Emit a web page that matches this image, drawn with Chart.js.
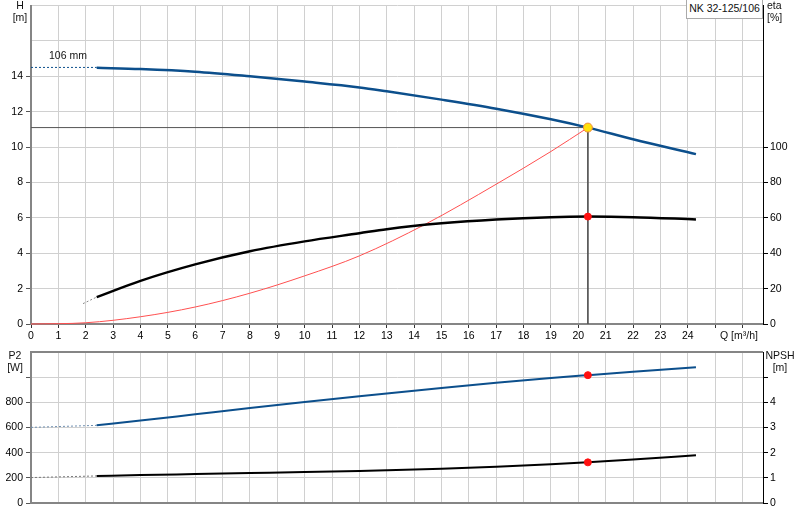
<!DOCTYPE html>
<html>
<head>
<meta charset="utf-8">
<script src="https://cdn.jsdelivr.net/npm/chart.js@4"></script>
<style>
  body { margin: 0; background: #fff; font-family: "Liberation Sans", Arial, sans-serif; font-size: 10.5px; color: #111; }
  #wrap { position: relative; width: 800px; height: 520px; overflow: hidden; }
  canvas { position: absolute; left: 0; }
  .lbl { position: absolute; line-height: 12px; white-space: nowrap; }
  .c { text-align: center; }
  #pumpBox { position: absolute; left: 686px; top: -1px; width: 75px; height: 18px; border: 1px solid #aaa; background: #fff; text-align: center; line-height: 17px; }
</style>
</head>
<body>
<div id="wrap">
  <canvas id="topChart" width="800" height="345" style="top:0"></canvas>
  <canvas id="bottomChart" width="800" height="175" style="top:345px"></canvas>
  <div class="lbl c" style="left:7px; top:-1px; width:26px">H<br>[m]</div>
  <div class="lbl" style="left:767px; top:-1px">eta<br>[%]</div>
  <div id="pumpBox">NK 32-125/106</div>
  <div class="lbl" style="left:49px; top:49px">106 mm</div>
  <div class="lbl" style="left:720px; top:329px">Q [m³/h]</div>
  <div class="lbl c" style="left:2px; top:349px; width:26px">P2<br>[W]</div>
  <div class="lbl c" style="left:765px; top:349px; width:30px">NPSH<br>[m]</div>
</div>
<script>
// pump curve
const qPump = [2.4, 4, 6, 8, 10, 12, 13, 15, 17, 19, 20.35, 22, 24.3];
const head = [14.48, 14.41, 14.26, 14.0, 13.7, 13.37, 13.15, 12.68, 12.17, 11.57, 11.1, 10.44, 9.6];
const eta = [15.2, 24.4, 33.7, 41.1, 46.7, 51.3, 53.6, 56.9, 59.1, 60.4, 60.7, 60.4, 59.1];
const powerP1 = [617, 655, 705, 755, 803, 849, 871, 914, 955, 993, 1016, 1043, 1078];
const powerP2 = [215, 222, 230, 238, 246, 255, 260, 272, 288, 307, 323, 345, 379];

// dotted lead-in parts below minimum flow
const qLead = [0, 2.4];
const headLead = [14.5, 14.5];
const p1Lead = [601, 617];
const p2Lead = [202, 215];
const etaLeadQ = [1.9, 2.4];
const etaLead = [11.5, 15.2];

// system curve
const qSys = [0, 2, 4, 6, 8, 10, 12, 14.4, 17, 19, 20.35];
const hSys = [0, 0.07, 0.41, 0.96, 1.74, 2.72, 3.85, 5.63, 7.9, 9.75, 11.1];

// duty point
const dutyQ = 20.35;
const dutyH = 11.1;
const dutyEta = 60.7;
const dutyP1 = 1016;
const dutyP2 = 323;

// axes
const qMax = 26.75;
const qLabelMax = 24;
const hMax = 18, hLabelMax = 14;
const etaMax = 180, etaTickMax = 100;
const pMax = 1200, pTickMax = 1000, pLabelMax = 800;
const npshMax = 6, npshTickMax = 5, npshLabelMax = 4;

const BLUE = "#0c4f8c";
const GRID = "#d0d0d0";
const AXIS = "#858585";
const font = { family: "'Liberation Sans', Arial, sans-serif", size: 10.5 };

const pts = (xs, ys) => xs.map((x, i) => ({ x, y: ys[i] }));

function line(data, color, width, extra) {
  return Object.assign({
    type: "line",
    data,
    borderColor: color,
    backgroundColor: color,
    borderWidth: width,
    pointRadius: 0,
    fill: false,
    cubicInterpolationMode: "monotone",
    order: 2
  }, extra || {});
}

function dot(x, y, fill, border, r, axis) {
  return {
    type: "scatter",
    data: [{ x, y }],
    yAxisID: axis,
    pointRadius: r,
    pointBackgroundColor: fill,
    pointBorderColor: border,
    pointBorderWidth: 1,
    order: 0
  };
}

function noPad(s) {
  s.paddingTop = 0;
  s.paddingBottom = 0;
  s.paddingLeft = 0;
  s.paddingRight = 0;
}

function qAxis(showLabels, height) {
  return {
    type: "linear",
    min: 0,
    max: qMax,
    ticks: {
      display: showLabels,
      stepSize: 1,
      includeBounds: false,
      autoSkip: false,
      maxRotation: 0,
      color: "#000",
      font,
      padding: 2,
      callback: v => (v <= qLabelMax ? v : "")
    },
    grid: { color: GRID, tickColor: "#333", tickLength: 4, drawTicks: showLabels },
    border: { color: AXIS, width: 2 },
    afterFit: s => { s.height = height; noPad(s); }
  };
}

function leftAxis(max, step, labelMax, tickMax, topLine) {
  return {
    position: "left",
    min: 0,
    max,
    ticks: {
      stepSize: step,
      color: "#000",
      font,
      padding: 3,
      callback: v => (v <= labelMax ? v : "")
    },
    grid: {
      color: c => (topLine && c.tick && c.tick.value === max ? AXIS : GRID),
      lineWidth: c => (topLine && c.tick && c.tick.value === max ? 2 : 1),
      tickColor: c => (c.tick && c.tick.value > tickMax ? "rgba(0,0,0,0)" : "#555"),
      tickLength: 5
    },
    border: { color: AXIS, width: 2 },
    afterFit: s => { s.width = 31; noPad(s); }
  };
}

function rightAxis(max, step, labelMax, tickMax) {
  return {
    position: "right",
    min: 0,
    max,
    afterBuildTicks: s => { s.ticks = s.ticks.filter(t => t.value <= tickMax); },
    ticks: {
      stepSize: step,
      color: "#000",
      font,
      padding: 2,
      callback: v => (v <= labelMax ? v : "")
    },
    grid: { drawOnChartArea: false, tickColor: "#000", tickLength: 5 },
    border: { color: "#000", width: 1 },
    afterFit: s => { s.width = 37; noPad(s); }
  };
}

const common = {
  responsive: false,
  animation: false,
  events: [],
  plugins: { legend: { display: false }, tooltip: { enabled: false } }
};

new Chart(document.getElementById("topChart"), {
  type: "line",
  data: {
    datasets: [
      dot(dutyQ, dutyH, "#ffe10a", "#f08a3c", 4.5, "h"),
      dot(dutyQ, dutyEta, "#ff1010", "#ff1010", 3.5, "eta"),
      line(pts(qPump, head), BLUE, 2.5, { yAxisID: "h", order: 1 }),
      line(pts(qPump, eta), "#000", 2.5, { yAxisID: "eta", order: 1 }),
      line(pts(qLead, headLead), BLUE, 1, { yAxisID: "h", borderDash: [2, 2] }),
      line(pts(etaLeadQ, etaLead), "#888", 1, { yAxisID: "eta", borderDash: [2, 2] }),
      line(pts(qSys, hSys), "#ff5050", 1, { yAxisID: "h", order: 2, clip: 4 }),
      line([{ x: 0, y: dutyH }, { x: dutyQ, y: dutyH }, { x: dutyQ, y: 0 }], "#555", 1,
        { yAxisID: "h", cubicInterpolationMode: "default", tension: 0, order: 3 })
    ]
  },
  options: Object.assign({}, common, {
    layout: { padding: 0 },
    scales: {
      x: qAxis(true, 21),
      h: leftAxis(hMax, 2, hLabelMax, hLabelMax, false),
      eta: rightAxis(etaMax, 20, etaTickMax, etaTickMax)
    }
  })
});

new Chart(document.getElementById("bottomChart"), {
  type: "line",
  data: {
    datasets: [
      dot(dutyQ, dutyP1, "#ff1010", "#ff1010", 3.5, "p"),
      dot(dutyQ, dutyP2, "#ff1010", "#ff1010", 3.5, "p"),
      line(pts(qPump, powerP1), BLUE, 2, { yAxisID: "p", order: 1 }),
      line(pts(qPump, powerP2), "#000", 2, { yAxisID: "p", order: 1 }),
      line(pts(qLead, p1Lead), "#6f8fb0", 1, { yAxisID: "p", borderDash: [2, 2] }),
      line(pts(qLead, p2Lead), "#777", 1, { yAxisID: "p", borderDash: [2, 2] })
    ]
  },
  options: Object.assign({}, common, {
    layout: { padding: { top: 7, left: 0, right: 0, bottom: 0 } },
    scales: {
      x: qAxis(false, 17),
      p: leftAxis(pMax, 200, pLabelMax, pTickMax, true),
      npsh: rightAxis(npshMax, 1, npshLabelMax, npshTickMax)
    }
  })
});
</script>
</body>
</html>
